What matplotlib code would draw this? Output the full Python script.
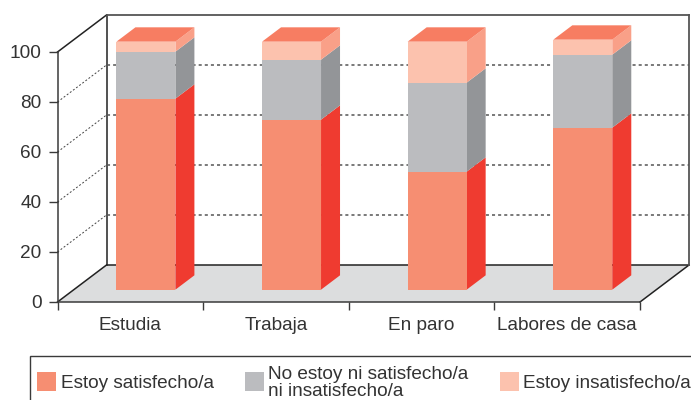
import matplotlib
matplotlib.use('Agg')
import matplotlib.pyplot as plt
from matplotlib.patches import Rectangle

plt.rcParams['font.family'] = ['Liberation Sans', 'DejaVu Sans']

categories = ['Estudia', 'Trabaja', 'En paro', 'Labores de casa']
satisfecho = [76.4, 68.0, 47.2, 64.8]
neutro = [18.8, 24.0, 35.6, 29.2]
insatisfecho = [4.0, 7.2, 16.4, 6.0]
y_ticks = [0, 20, 40, 60, 80, 100]
legend_labels = ['Estoy satisfecho/a', 'No estoy ni satisfecho/a\nni insatisfecho/a', 'Estoy insatisfecho/a']

W, H = 691, 400
TXT = '#333333'
LINE = '#3a3a3a'
front_cols = ['#f68e72', '#bbbcbf', '#fcc2ae']
side_cols = ['#ef3b30', '#939598', '#f9a088']
top_col = '#f77d62'
floor_col = '#dcddde'

# front plane of the chart, in pixels
x0, x1 = 57.5, 640.0
y0, y100 = 302.0, 52.0

fig = plt.figure(figsize=(W / 100, H / 100), dpi=100)
ax = fig.add_axes([x0 / W, 1 - y0 / H, (x1 - x0) / W, (y0 - y100) / H])
ax.set_xlim(0, len(categories))
ax.set_ylim(0, 100)
ax.patch.set_alpha(0)

# fake depth: how far the back wall is shifted, in data units
depth_x = 49 / ((x1 - x0) / len(categories))
depth_y = 37 / ((y0 - y100) / 100)


def proj(x, y, d):
    return x + d * depth_x, y + d * depth_y


def poly(points, color, z):
    xs = [p[0] for p in points]
    ys = [p[1] for p in points]
    ax.fill(xs, ys, color=color, lw=0, zorder=z, clip_on=False)


def line(a, b, z=1, **kw):
    ax.plot([a[0], b[0]], [a[1], b[1]], clip_on=False, zorder=z, **kw)


n = len(categories)

# floor and walls
poly([proj(0, 0, 0), proj(n, 0, 0), proj(n, 0, 1), proj(0, 0, 1)], floor_col, 1)
solid = dict(color='#222222', lw=1.1)
line(proj(0, 0, 0), proj(0, 0, 1), **solid)
line(proj(0, 100, 0), proj(0, 100, 1), **solid)
line(proj(n, 0, 0), proj(n, 0, 1), **solid)
line(proj(0, 0, 1), proj(n, 0, 1), **solid)
line(proj(0, 0, 1), proj(0, 100, 1), **solid)
line(proj(0, 100, 1), proj(n, 100, 1), color='#555555', lw=1.3)
line(proj(n, 0, 1), proj(n, 100, 1), color='#555555', lw=1.3)

# dotted grid on left and back wall
for v in y_ticks[1:-1]:
    line(proj(0, v, 0), proj(0, v, 1), color='#444444', lw=0.7, ls=(0, (2, 2)))
    line(proj(0, v, 1), proj(n, v, 1), color='#555555', lw=1.1, ls=(0, (2, 2)))

# the bars
bar_w = 0.405
d_front = 1 / 3
d_back = d_front + 19 / 49
for i in range(n):
    left = i + 0.495 - bar_w / 2
    right = left + bar_w
    bottom = 0
    for vals, fc, sc in zip([satisfecho, neutro, insatisfecho], front_cols, side_cols):
        top = bottom + vals[i]
        poly([proj(right, bottom, d_front), proj(right, bottom, d_back),
              proj(right, top, d_back), proj(right, top, d_front)], sc, 3)
        poly([proj(left, bottom, d_front), proj(right, bottom, d_front),
              proj(right, top, d_front), proj(left, top, d_front)], fc, 4)
        bottom = top
    poly([proj(left, bottom, d_front), proj(right, bottom, d_front),
          proj(right, bottom, d_back), proj(left, bottom, d_back)], top_col, 4)

for s in ['top', 'right']:
    ax.spines[s].set_visible(False)
for s in ['left', 'bottom']:
    ax.spines[s].set_color(LINE)
    ax.spines[s].set_linewidth(1.1)
    ax.spines[s].set_zorder(2)

ax.set_yticks(y_ticks)
ax.set_xticks(range(n + 1))
ax.set_xticklabels([])
ax.set_xticks([i + 0.5 for i in range(n)], minor=True)
ax.set_xticklabels(categories, minor=True)
ax.tick_params(axis='y', length=6.5, width=1, color=LINE, labelsize=13.7, labelcolor=TXT, pad=5)
ax.tick_params(axis='x', which='major', length=6, width=1, color=LINE)
ax.tick_params(axis='x', which='minor', length=0, labelsize=13.7, labelcolor=TXT, pad=10.5)


# legend box runs off the page, like in the original
def px(x, y):
    return x / W, 1 - y / H


fig.add_artist(Rectangle(px(30, 420), 700 / W, 64 / H, transform=fig.transFigure,
                         fc='none', ec=LINE, lw=1.0))
swatch_x = [37, 245, 500]
text_x = [61, 268, 523]
for sx, tx, col, lab in zip(swatch_x, text_x, front_cols, legend_labels):
    fig.add_artist(Rectangle(px(sx, 391), 19 / W, 19 / H, transform=fig.transFigure, fc=col, ec='none'))
    xt, yt = px(tx, 383)
    fig.text(xt, yt, lab, fontsize=13.7, color=TXT, va='center', ha='left', linespacing=1.0)

fig.savefig('out.png', dpi=100)
